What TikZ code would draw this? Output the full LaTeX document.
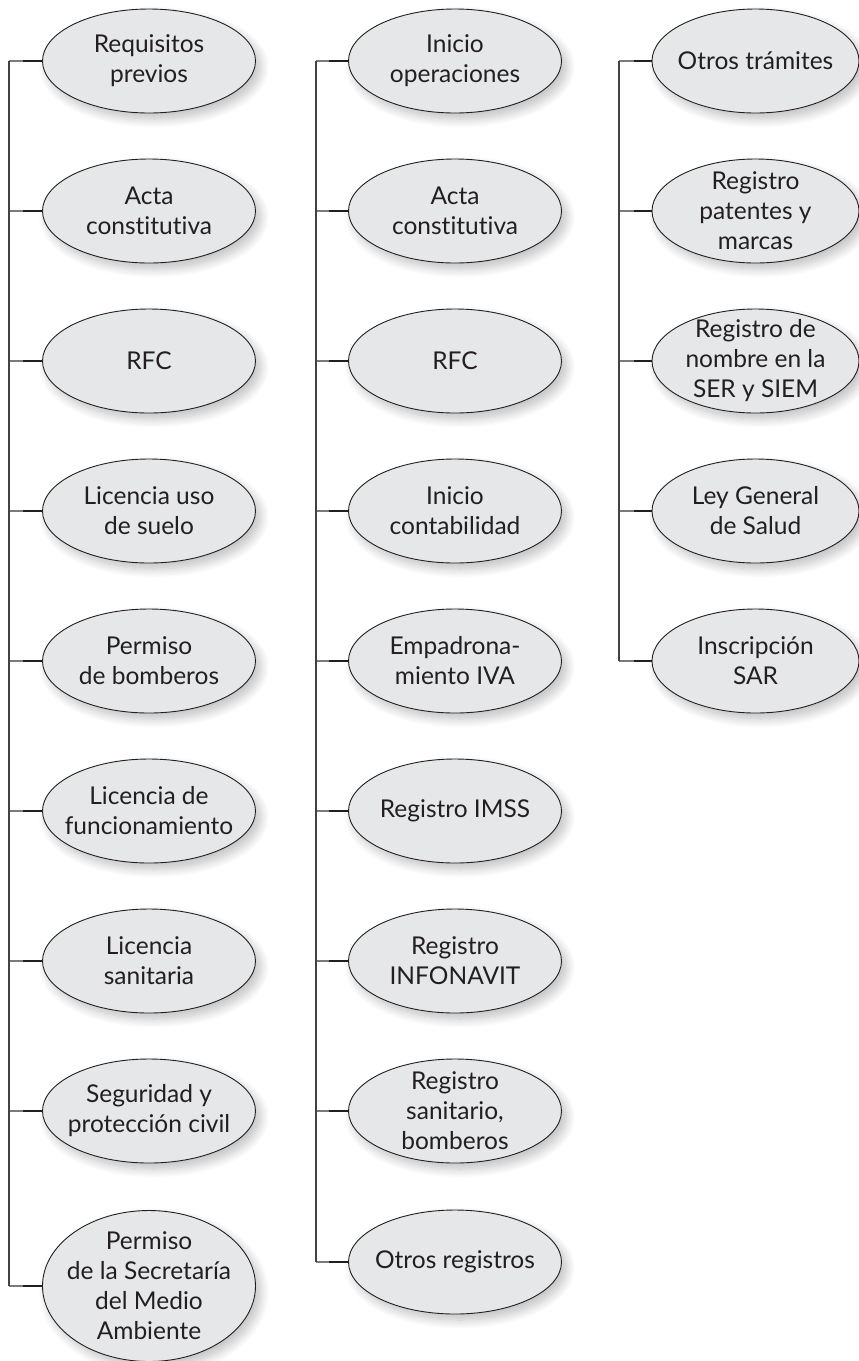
\documentclass[tikz,border=0pt]{standalone}
\usepackage{fontspec}
\setmainfont{Lato}[Ligatures=NoCommon]
\usetikzlibrary{shapes.geometric,shadows.blur}
\definecolor{bubfill}{HTML}{E6E7E8}
\definecolor{ink}{HTML}{231F20}
\tikzset{
  bub/.style={ellipse, draw=ink, line width=0.9pt, fill=bubfill, inner sep=0pt,
    minimum width=213pt, minimum height=104pt,
    blur shadow={shadow xshift=5pt, shadow yshift=-6pt, shadow blur steps=12, shadow blur radius=9pt, shadow opacity=25}},
  txt/.style={align=center, inner sep=0pt, text=ink, font=\fontsize{24.5}{30}\selectfont},
  trunk/.style={draw=ink!85, line width=1.1pt},
  stub/.style={draw=ink!60, line width=1.1pt},
  knee/.style={draw=ink, line width=2.8pt},
}
\newcommand{\bubrow}[6]{% #1 id, #2 trunk x, #3 knee x, #4 center x, #5 y, #6 text
  \coordinate (c#1) at (#2pt,-#5pt);
  \coordinate (k#1) at (#3pt,-#5pt);
  \node[bub] (n#1) at (#4pt,-#5pt) {};
  \node[txt] (t#1) at (n#1) {#6};
  \draw[stub] (c#1) -- (k#1);
  \draw[knee] (k#1) -- (n#1.west);
}
\begin{document}
\begin{tikzpicture}[x=1pt,y=1pt]
\useasboundingbox (0,0) rectangle (859,-1361);
% column 1
\bubrow{1-1}{9}{23}{149}{61}{Requisitos\\previos}
\bubrow{1-2}{9}{23}{149}{211}{Acta\\constitutiva}
\bubrow{1-3}{9}{23}{149}{361}{RFC}
\bubrow{1-4}{9}{23}{149}{511}{Licencia uso\\de suelo}
\bubrow{1-5}{9}{23}{149}{661}{Permiso\\de bomberos}
\bubrow{1-6}{9}{23}{149}{811}{Licencia de\\funcionamiento}
\bubrow{1-7}{9}{23}{149}{961}{Licencia\\sanitaria}
\bubrow{1-8}{9}{23}{149}{1111}{Seguridad y\\protección civil}
\coordinate (c1-9) at (9,-1286);
\coordinate (k1-9) at (23,-1286);
\node[bub, minimum height=151pt] (n1-9) at (149,-1286) {};
\node[txt] (t1-9) at (n1-9) {Permiso\\de la Secretaría\\del Medio\\Ambiente};
\draw[stub] (c1-9) -- (k1-9);
\draw[knee] (k1-9) -- (n1-9.west);
\draw[trunk] (c1-1) -- (c1-9);
% column 2
\bubrow{2-1}{316}{329}{455}{61}{Inicio\\operaciones}
\bubrow{2-2}{316}{329}{455}{211}{Acta\\constitutiva}
\bubrow{2-3}{316}{329}{455}{361}{RFC}
\bubrow{2-4}{316}{329}{455}{511}{Inicio\\contabilidad}
\bubrow{2-5}{316}{329}{455}{661}{Empadrona-\\miento IVA}
\bubrow{2-6}{316}{329}{455}{811}{Registro IMSS}
\bubrow{2-7}{316}{329}{455}{961}{Registro\\INFONAVIT}
\bubrow{2-8}{316}{329}{455}{1111}{Registro\\sanitario,\\bomberos}
\bubrow{2-9}{316}{329}{455}{1262}{Otros registros}
\draw[trunk] (c2-1) -- (c2-9);
% column 3
\tikzset{bub/.append style={minimum width=207pt}}
\bubrow{3-1}{619}{634}{755.5}{61}{Otros trámites}
\bubrow{3-2}{619}{634}{755.5}{211}{Registro\\patentes y\\marcas}
\bubrow{3-3}{619}{634}{755.5}{361}{Registro de\\nombre en la\\SER y SIEM}
\bubrow{3-4}{619}{634}{755.5}{511}{Ley General\\de Salud}
\bubrow{3-5}{619}{634}{755.5}{661}{Inscripción\\SAR}
\draw[trunk] (c3-1) -- (c3-5);
\end{tikzpicture}
\end{document}
